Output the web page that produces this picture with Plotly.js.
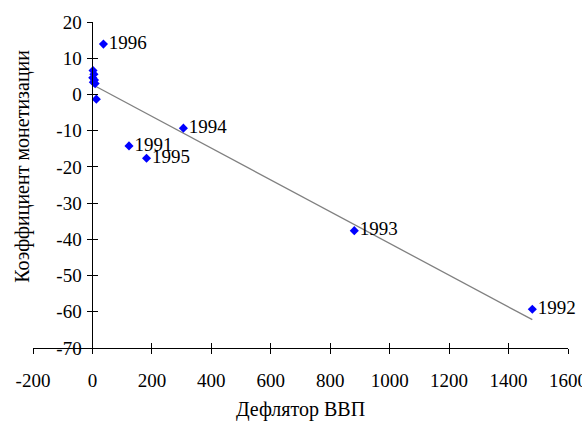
<!DOCTYPE html>
<html>
<head>
<meta charset="utf-8">
<script src="https://cdn.plot.ly/plotly-3.0.1.min.js"></script>
<style>html,body{margin:0;padding:0;background:#fff;}#chart{width:582px;height:421px;}</style>
</head>
<body>
<div id="chart"></div>
<script>
// Data
const deflator = [123, 1480, 881, 306, 182, 37, 13, 2, 5, 1, 7, 3, 9];
const monetization = [-14.2, -59.3, -37.6, -9.3, -17.6, 13.9, -1.3, 6.6, 5.6, 4.6, 4.0, 3.4, 3.0];
const pointLabels = ["1991", "1992", "1993", "1994", "1995", "1996", "", "", "", "", "", "", ""];
const xTicks = [-200, 0, 200, 400, 600, 800, 1000, 1200, 1400, 1600];
const xTickText = ["-200", "0", "200", "400", "600", "800", "1000", "1200", "1400", "1600"];
const yTicks = [-70, -60, -50, -40, -30, -20, -10, 0, 10, 20];
const yTickText = ["-70", "-60", "-50", "-40", "-30", "-20", "-10", "0", "10", "20"];
const xTitle = "Дефлятор ВВП";
const yTitle = "Коэффициент монетизации";

// Least-squares trend line through the data
const n = deflator.length;
const mx = deflator.reduce((a, b) => a + b, 0) / n;
const my = monetization.reduce((a, b) => a + b, 0) / n;
let sxy = 0, sxx = 0;
for (let i = 0; i < n; i++) { sxy += (deflator[i] - mx) * (monetization[i] - my); sxx += (deflator[i] - mx) ** 2; }
const slope = sxy / sxx, intercept = my - slope * mx;
const xMin = Math.min(...deflator), xMax = Math.max(...deflator);
const trendX = [xMin, xMax];
const trendY = trendX.map(v => intercept + slope * v);

function mkFont(sz) { return {family: "Liberation Serif", size: sz || 18, color: "#000000"}; }
const xr = [-200, 1600], yr = [-70, 20];
const yPos = (0 - xr[0]) / (xr[1] - xr[0]);

const traces = [
  {x: trendX, y: trendY, mode: "lines", line: {color: "#808080", width: 1.3}, hoverinfo: "skip", showlegend: false},
  {x: deflator, y: monetization, text: pointLabels, mode: "markers+text", textposition: "middle right",
   textfont: mkFont(19), marker: {symbol: "diamond", color: "#0000ff", size: 7}, showlegend: false, cliponaxis: false},
  {x: [null], y: [null], xaxis: "x2", yaxis: "y2", mode: "markers", showlegend: false, hoverinfo: "skip"}
];

function axisCommon(extra) {
  return Object.assign({showgrid: false, zeroline: false, showline: true, linecolor: "#000", linewidth: 1,
    tickcolor: "#000", ticklen: 5, tickwidth: 1, automargin: false, tickfont: mkFont(19), fixedrange: true,
    ticklabeloverflow: "allow"}, extra);
}

const layout = {
  width: 582, height: 421,
  margin: {l: 33, r: 14, t: 22, b: 73, pad: 0},
  paper_bgcolor: "#fff", plot_bgcolor: "#fff",
  font: mkFont(19),
  xaxis: axisCommon({range: xr, tickvals: xTicks, ticktext: xTickText, ticks: "outside", anchor: "y",
    ticklabelstandoff: 10,
    title: {text: xTitle, font: mkFont(20), standoff: 16}}),
  yaxis: axisCommon({range: yr, tickvals: yTicks, ticktext: yTickText, ticks: "outside", anchor: "free", position: yPos,
    ticklabelstandoff: 2}),
  xaxis2: axisCommon({range: xr, tickvals: xTicks, ticks: "inside", overlaying: "x", anchor: "y", side: "bottom", showticklabels: false}),
  yaxis2: axisCommon({range: yr, tickvals: yTicks, ticks: "inside", overlaying: "y", anchor: "free", position: yPos, showticklabels: false}),
  annotations: [{text: yTitle, textangle: -90, xref: "paper", yref: "paper", x: -0.021, y: 0.558,
    showarrow: false, font: mkFont(20), xanchor: "center", yanchor: "middle"}]
};

Plotly.newPlot("chart", traces, layout, {staticPlot: true, displayModeBar: false});
</script>
</body>
</html>
